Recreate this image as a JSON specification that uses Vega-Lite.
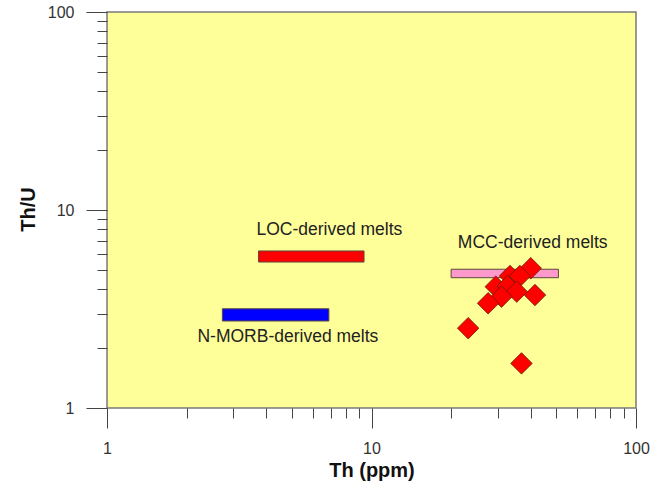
{
  "$schema": "https://vega.github.io/schema/vega-lite/v6.json",
  "width": 529,
  "height": 396,
  "autosize": "none",
  "padding": {"left": 107, "top": 12, "right": 15, "bottom": 88},
  "background": "white",
  "config": {
    "font": "Liberation Sans",
    "view": {"fill": "#FFFF99", "stroke": "#7a7a7a", "strokeWidth": 1.5}
  },
  "datasets": {
    "bars": [
      {"name": "LOC", "x1": 3.74, "x2": 9.37, "y1": 5.46, "y2": 6.21},
      {"name": "NMORB", "x1": 2.73, "x2": 6.9, "y1": 2.75, "y2": 3.17},
      {"name": "MCC", "x1": 20.0, "x2": 50.9, "y1": 4.55, "y2": 5.02}
    ],
    "points": [
      {"Th": 40.0, "ThU": 5.08},
      {"Th": 33.4, "ThU": 4.64},
      {"Th": 36.4, "ThU": 4.64},
      {"Th": 29.5, "ThU": 4.10},
      {"Th": 32.7, "ThU": 4.13},
      {"Th": 35.4, "ThU": 3.87},
      {"Th": 31.0, "ThU": 3.65},
      {"Th": 41.5, "ThU": 3.72},
      {"Th": 27.6, "ThU": 3.38},
      {"Th": 23.2, "ThU": 2.53},
      {"Th": 36.9, "ThU": 1.68}
    ],
    "labels": [
      {"text": "LOC-derived melts", "x": 6.93, "y": 7.93},
      {"text": "MCC-derived melts", "x": 40.7, "y": 6.81},
      {"text": "N-MORB-derived melts", "x": 4.83, "y": 2.28}
    ]
  },
  "layer": [
    {
      "data": {"name": "bars"},
      "mark": {"type": "rect", "stroke": "#5a4a3a", "strokeWidth": 1},
      "encoding": {
        "x": {
          "field": "x1", "type": "quantitative",
          "scale": {"type": "log", "domain": [1, 100], "nice": false},
          "axis": {
            "title": "Th (ppm)",
            "values": [1,2,3,4,5,6,7,8,9,10,20,30,40,50,60,70,80,90,100],
            "labelExpr": "datum.value == 1 || datum.value == 10 || datum.value == 100 ? '' + datum.value : ''",
            "tickSize": {"condition": {"test": "datum.value == 1 || datum.value == 10 || datum.value == 100", "value": 20}, "value": 10},
            "tickColor": "#444",
            "domain": false,
            "grid": false,
            "labelFontSize": 16,
            "labelColor": "#333",
            "labelPadding": 12,
            "labelFlush": false,
            "labelOverlap": false,
            "titleFontSize": 20,
            "titleFontWeight": "bold",
            "titleColor": "#111",
            "titleY": 62,
            "titleBaseline": "middle"
          }
        },
        "x2": {"field": "x2"},
        "y": {
          "field": "y1", "type": "quantitative",
          "scale": {"type": "log", "domain": [1, 100], "nice": false},
          "axis": {
            "title": "Th/U",
            "values": [1,2,3,4,5,6,7,8,9,10,20,30,40,50,60,70,80,90,100],
            "labelExpr": "datum.value == 1 || datum.value == 10 || datum.value == 100 ? '' + datum.value : ''",
            "tickSize": {"condition": {"test": "datum.value == 1 || datum.value == 10 || datum.value == 100", "value": 21}, "value": 10},
            "tickColor": "#444",
            "domain": false,
            "grid": false,
            "labelFontSize": 16,
            "labelColor": "#333",
            "labelPadding": 12,
            "labelFlush": false,
            "labelOverlap": false,
            "titleFontSize": 20,
            "titleFontWeight": "bold",
            "titleColor": "#111",
            "titleX": -79,
            "titleY": 197,
            "titleAngle": -90,
            "titleAlign": "center",
            "titleBaseline": "middle"
          }
        },
        "y2": {"field": "y2"},
        "color": {
          "field": "name", "type": "nominal",
          "scale": {"domain": ["LOC", "NMORB", "MCC"], "range": ["#FF0000", "#0000FF", "#FF99CC"]},
          "legend": null
        }
      }
    },
    {
      "data": {"name": "points"},
      "mark": {"type": "point", "shape": "diamond", "filled": true, "size": 460, "fill": "#FF0000", "stroke": "#6a1a00", "strokeWidth": 0.8, "opacity": 1},
      "encoding": {
        "x": {"field": "Th", "type": "quantitative"},
        "y": {"field": "ThU", "type": "quantitative"}
      }
    },
    {
      "data": {"name": "labels"},
      "mark": {"type": "text", "fontSize": 17.5, "color": "#222", "align": "center", "baseline": "middle"},
      "encoding": {
        "x": {"field": "x", "type": "quantitative"},
        "y": {"field": "y", "type": "quantitative"},
        "text": {"field": "text"}
      }
    }
  ]
}
